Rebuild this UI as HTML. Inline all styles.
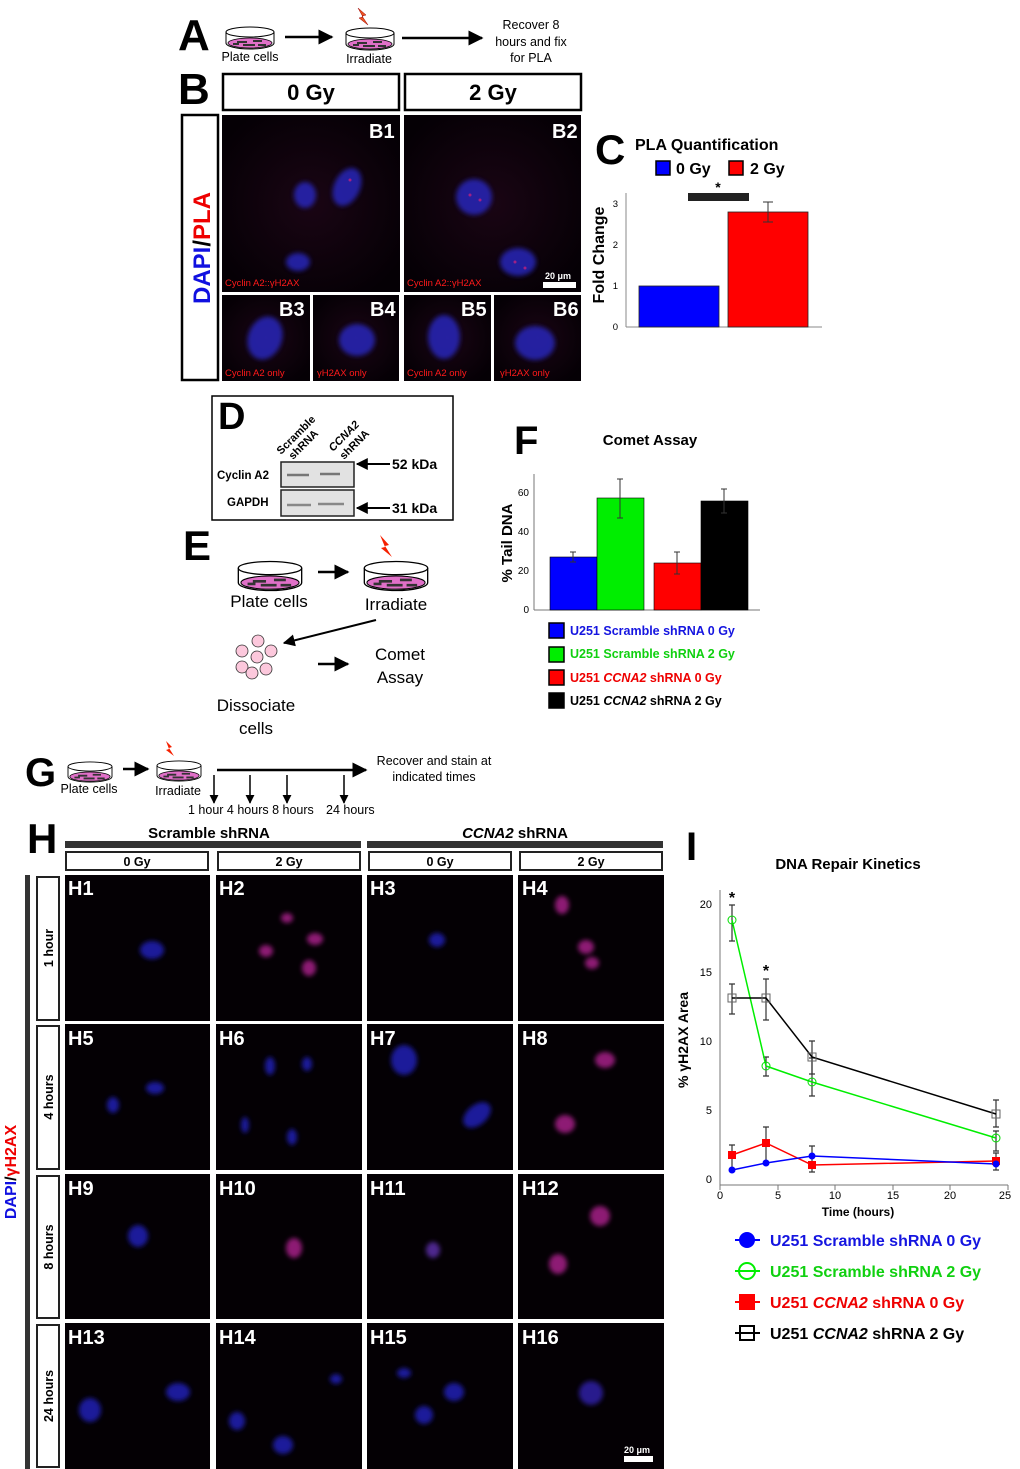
<!DOCTYPE html>
<html><head><meta charset="utf-8"><style>
html,body{margin:0;padding:0;background:#fff}
svg{display:block;font-family:"Liberation Sans",Arial,sans-serif}
.b{font-weight:bold}
</style></head><body>
<svg width="1020" height="1469" viewBox="0 0 1020 1469" xmlns="http://www.w3.org/2000/svg">
<defs>
<symbol id="dish" viewBox="0 0 50 24">
<path d="M1 6 V17 A24 6 0 0 0 49 17 V6" fill="#fff" stroke="#000" stroke-width="1"/>
<ellipse cx="25" cy="17" rx="22" ry="5" fill="#e070c8" stroke="#000" stroke-width="0.8"/>
<path d="M12 16h10M28 15h9M18 19h12M8 18h6M33 19h8" stroke="#333" stroke-width="2"/>
<ellipse cx="25" cy="6" rx="24" ry="5" fill="#fff" stroke="#000" stroke-width="1"/>
</symbol>
<marker id="ah" viewBox="0 0 10 10" refX="9" refY="5" markerWidth="6" markerHeight="6" orient="auto"><path d="M0 0L10 5L0 10z" fill="#000"/></marker>
<filter id="bl"><feGaussianBlur stdDeviation="2.5"/></filter>
<radialGradient id="bg" cx="50%" cy="50%" r="60%"><stop offset="0" stop-color="#1a0514"/><stop offset="1" stop-color="#050005"/></radialGradient>
</defs>

<!-- A -->
<text x="178" y="50" font-size="44" class="b">A</text>
<use href="#dish" x="225" y="26" width="50" height="24"/>
<text x="250" y="61" font-size="12.5" text-anchor="middle">Plate cells</text>
<line x1="285" y1="37" x2="332" y2="37" stroke="#000" stroke-width="2.5" marker-end="url(#ah)"/>
<use href="#dish" x="345" y="27" width="50" height="24"/>
<path d="M358 8l8 7-4 1 6 9-9-7 4-1z" fill="#e52" stroke="#900" stroke-width="0.5"/>
<text x="369" y="63" font-size="12.5" text-anchor="middle">Irradiate</text>
<line x1="402" y1="38" x2="482" y2="38" stroke="#000" stroke-width="2.5" marker-end="url(#ah)"/>
<text font-size="12.5" text-anchor="middle"><tspan x="531" y="29">Recover 8</tspan><tspan x="531" y="46">hours and fix</tspan><tspan x="531" y="62">for PLA</tspan></text>

<!-- B -->
<text x="178" y="104" font-size="44" class="b">B</text>
<rect x="223" y="74" width="176" height="36" fill="#fff" stroke="#000" stroke-width="2.5"/>
<text x="311" y="100" font-size="22" class="b" text-anchor="middle">0 Gy</text>
<rect x="405" y="74" width="176" height="36" fill="#fff" stroke="#000" stroke-width="2.5"/>
<text x="493" y="100" font-size="22" class="b" text-anchor="middle">2 Gy</text>
<rect x="182" y="115" width="36" height="265" fill="#fff" stroke="#000" stroke-width="2.5"/>
<text transform="translate(210,248) rotate(-90)" font-size="24" class="b" text-anchor="middle"><tspan fill="#1010e0">DAPI</tspan><tspan fill="#000">/</tspan><tspan fill="#e00">PLA</tspan></text>
<g>
<rect x="222" y="115" width="178" height="177" fill="url(#bg)"/>
<rect x="404" y="115" width="177" height="177" fill="url(#bg)"/>
<rect x="222" y="295" width="88" height="86" fill="url(#bg)"/>
<rect x="313" y="295" width="86" height="86" fill="url(#bg)"/>
<rect x="404" y="295" width="87" height="86" fill="url(#bg)"/>
<rect x="494" y="295" width="87" height="86" fill="url(#bg)"/>
<g filter="url(#bl)" fill="#2a2ad0" opacity="0.75">
<ellipse cx="305" cy="195" rx="11" ry="13"/>
<ellipse cx="347" cy="187" rx="13" ry="20" transform="rotate(25 347 187)"/>
<ellipse cx="298" cy="262" rx="12" ry="9"/>
<ellipse cx="474" cy="197" rx="18" ry="18"/>
<ellipse cx="518" cy="262" rx="18" ry="14"/>
<ellipse cx="265" cy="338" rx="17" ry="22" transform="rotate(20 265 338)"/>
<ellipse cx="357" cy="340" rx="18" ry="16"/>
<ellipse cx="444" cy="337" rx="16" ry="22"/>
<ellipse cx="535" cy="343" rx="20" ry="17"/>
</g>
<g fill="#c02080" opacity="0.8"><circle cx="470" cy="195" r="1.5"/><circle cx="480" cy="200" r="1.5"/><circle cx="515" cy="262" r="1.5"/><circle cx="350" cy="180" r="1.5"/><circle cx="525" cy="268" r="1.5"/></g>
</g>
<g fill="#fff" class="b" font-size="20">
<text x="369" y="138">B1</text><text x="552" y="138">B2</text>
<text x="279" y="316">B3</text><text x="370" y="316">B4</text><text x="461" y="316">B5</text><text x="553" y="316">B6</text>
</g>
<g fill="#ff1a1a" font-size="9.5">
<text x="225" y="286">Cyclin A2::γH2AX</text><text x="407" y="286">Cyclin A2::γH2AX</text>
<text x="225" y="376">Cyclin A2 only</text><text x="317" y="376">γH2AX only</text><text x="407" y="376">Cyclin A2 only</text><text x="500" y="376">γH2AX only</text>
</g>
<text x="545" y="279" fill="#fff" font-size="9" class="b">20 μm</text>
<rect x="543" y="282" width="33" height="6" fill="#fff"/>

<!-- C -->
<text x="595" y="164" font-size="42" class="b">C</text>
<text x="635" y="150" font-size="16" class="b">PLA Quantification</text>
<rect x="656" y="161" width="14" height="14" fill="#0000ff" stroke="#000" stroke-width="1.5"/>
<text x="676" y="174" font-size="16" class="b">0 Gy</text>
<rect x="729" y="161" width="14" height="14" fill="#ff0000" stroke="#000" stroke-width="1.5"/>
<text x="750" y="174" font-size="16" class="b">2 Gy</text>
<text transform="translate(604,255) rotate(-90)" font-size="16" class="b" text-anchor="middle">Fold Change</text>
<line x1="626" y1="193" x2="626" y2="327" stroke="#888" stroke-width="1"/>
<line x1="626" y1="327" x2="822" y2="327" stroke="#888" stroke-width="1"/>
<g font-size="9.5" text-anchor="end"><text x="618" y="330">0</text><text x="618" y="289">1</text><text x="618" y="248">2</text><text x="618" y="207">3</text></g>
<rect x="639" y="286" width="80" height="41" fill="#0000ff" stroke="#222" stroke-width="0.8"/>
<rect x="728" y="212" width="80" height="115" fill="#ff0000" stroke="#222" stroke-width="0.8"/>
<path d="M768 202v20M763 202h10M763 222h10" stroke="#333" stroke-width="1"/>
<rect x="688" y="193" width="61" height="8" fill="#222"/>
<text x="718" y="192" font-size="14" class="b" text-anchor="middle">*</text>

<!-- D -->
<rect x="212" y="396" width="241" height="124" fill="#fff" stroke="#000" stroke-width="1.5"/>
<text x="218" y="429" font-size="38" class="b">D</text>
<text transform="translate(281,455) rotate(-45)" font-size="11" class="b">Scramble</text>
<text transform="translate(293,460) rotate(-45)" font-size="11" class="b">shRNA</text>
<text transform="translate(333,452) rotate(-45)" font-size="11" class="b" font-style="italic">CCNA2</text>
<text transform="translate(344,460) rotate(-45)" font-size="11" class="b">shRNA</text>
<text x="217" y="479" font-size="11.5" class="b">Cyclin A2</text>
<text x="227" y="506" font-size="11.5" class="b">GAPDH</text>
<rect x="281" y="462" width="73" height="25" fill="#e2e2e2" stroke="#222" stroke-width="1.5"/>
<rect x="281" y="490" width="73" height="26" fill="#e2e2e2" stroke="#222" stroke-width="1.5"/>
<path d="M287 475h22M320 474h20" stroke="#777" stroke-width="2.5"/>
<path d="M287 505h24M318 504h26" stroke="#888" stroke-width="2.5"/>
<line x1="390" y1="464" x2="357" y2="464" stroke="#000" stroke-width="2" marker-end="url(#ah)"/>
<text x="392" y="469" font-size="14" class="b">52 kDa</text>
<line x1="390" y1="508" x2="357" y2="508" stroke="#000" stroke-width="2" marker-end="url(#ah)"/>
<text x="392" y="513" font-size="14" class="b">31 kDa</text>

<!-- E -->
<text x="183" y="560" font-size="42" class="b">E</text>
<use href="#dish" x="237" y="560" width="66" height="32"/>
<text x="269" y="607" font-size="17" text-anchor="middle">Plate cells</text>
<line x1="318" y1="572" x2="348" y2="572" stroke="#000" stroke-width="2.5" marker-end="url(#ah)"/>
<use href="#dish" x="363" y="560" width="66" height="32"/>
<path d="M380 535l9 10-4 1 7 11-11-9 4-1z" fill="#f52000"/>
<text x="396" y="610" font-size="17" text-anchor="middle">Irradiate</text>
<line x1="376" y1="620" x2="284" y2="643" stroke="#000" stroke-width="2" marker-end="url(#ah)"/>
<g fill="#fcc8dc" stroke="#333" stroke-width="0.8">
<circle cx="258" cy="641" r="6"/><circle cx="242" cy="651" r="6"/><circle cx="271" cy="651" r="6"/><circle cx="257" cy="657" r="6"/><circle cx="242" cy="667" r="6"/><circle cx="266" cy="669" r="6"/><circle cx="252" cy="673" r="6"/>
</g>
<line x1="318" y1="664" x2="348" y2="664" stroke="#000" stroke-width="2.5" marker-end="url(#ah)"/>
<text font-size="17" text-anchor="middle"><tspan x="400" y="660">Comet</tspan><tspan x="400" y="683">Assay</tspan></text>
<text font-size="17" text-anchor="middle"><tspan x="256" y="711">Dissociate</tspan><tspan x="256" y="734">cells</tspan></text>

<!-- F -->
<text x="514" y="454" font-size="40" class="b">F</text>
<text x="650" y="445" font-size="15" class="b" text-anchor="middle">Comet Assay</text>
<text transform="translate(512,543) rotate(-90)" font-size="15" class="b" text-anchor="middle">% Tail DNA</text>
<line x1="534" y1="474" x2="534" y2="610" stroke="#777"/>
<line x1="534" y1="610" x2="760" y2="610" stroke="#777"/>
<g font-size="10" text-anchor="end"><text x="529" y="613">0</text><text x="529" y="574">20</text><text x="529" y="535">40</text><text x="529" y="496">60</text></g>
<rect x="550" y="557" width="47" height="53" fill="#0000ff" stroke="#000" stroke-width="0.6"/>
<rect x="597" y="498" width="47" height="112" fill="#00ee00" stroke="#000" stroke-width="0.6"/>
<rect x="654" y="563" width="47" height="47" fill="#ff0000" stroke="#000" stroke-width="0.6"/>
<rect x="701" y="501" width="47" height="109" fill="#000" stroke="#000" stroke-width="0.6"/>
<g stroke="#333" stroke-width="1">
<path d="M573 552v10M570 552h6M570 562h6"/>
<path d="M620 479v39M617 479h6M617 518h6"/>
<path d="M677 552v22M674 552h6M674 574h6"/>
<path d="M724 489v24M721 489h6M721 513h6"/>
</g>
<g font-size="12.5" class="b">
<rect x="549" y="623" width="15" height="15" fill="#0000ff" stroke="#000" stroke-width="1.5"/>
<text x="570" y="635" fill="#1515e0">U251 Scramble shRNA 0 Gy</text>
<rect x="549" y="647" width="15" height="15" fill="#00ee00" stroke="#000" stroke-width="1.5"/>
<text x="570" y="658" fill="#10d010">U251 Scramble shRNA 2 Gy</text>
<rect x="549" y="670" width="15" height="15" fill="#ff0000" stroke="#000" stroke-width="1.5"/>
<text x="570" y="682" fill="#e00">U251 <tspan font-style="italic">CCNA2</tspan> shRNA 0 Gy</text>
<rect x="549" y="693" width="15" height="15" fill="#000" stroke="#000" stroke-width="1.5"/>
<text x="570" y="705">U251 <tspan font-style="italic">CCNA2</tspan> shRNA 2 Gy</text>
</g>

<!-- G -->
<text x="25" y="786" font-size="40" class="b">G</text>
<use href="#dish" x="66" y="761" width="48" height="22"/>
<text x="89" y="793" font-size="12.5" text-anchor="middle">Plate cells</text>
<line x1="123" y1="769" x2="148" y2="769" stroke="#000" stroke-width="2.5" marker-end="url(#ah)"/>
<use href="#dish" x="155" y="760" width="48" height="22"/>
<path d="M166 741l6 6-3 1 5 8-8-6 3-1z" fill="#f52000"/>
<text x="178" y="795" font-size="12.5" text-anchor="middle">Irradiate</text>
<line x1="217" y1="770" x2="366" y2="770" stroke="#000" stroke-width="2.5" marker-end="url(#ah)"/>
<g stroke="#000" stroke-width="1.5">
<line x1="214" y1="775" x2="214" y2="803" marker-end="url(#ah)"/>
<line x1="250" y1="775" x2="250" y2="803" marker-end="url(#ah)"/>
<line x1="287" y1="775" x2="287" y2="803" marker-end="url(#ah)"/>
<line x1="344" y1="775" x2="344" y2="803" marker-end="url(#ah)"/>
</g>
<text x="188" y="814" font-size="12.5">1 hour 4 hours 8 hours</text>
<text x="326" y="814" font-size="12.5">24 hours</text>
<text font-size="12.5" text-anchor="middle"><tspan x="434" y="765">Recover and stain at</tspan><tspan x="434" y="781">indicated times</tspan></text>

<!-- H -->
<text x="27" y="853" font-size="42" class="b">H</text>
<text x="209" y="838" font-size="15" class="b" text-anchor="middle">Scramble shRNA</text>
<text x="515" y="838" font-size="15" class="b" text-anchor="middle"><tspan font-style="italic">CCNA2</tspan> shRNA</text>
<rect x="65" y="841" width="296" height="7" fill="#333"/>
<rect x="367" y="841" width="296" height="7" fill="#333"/>
<g fill="#fff" stroke="#222" stroke-width="2">
<rect x="66" y="852" width="142" height="18"/><rect x="218" y="852" width="142" height="18"/>
<rect x="369" y="852" width="142" height="18"/><rect x="520" y="852" width="142" height="18"/>
</g>
<g font-size="12.5" class="b" text-anchor="middle">
<text x="137" y="866">0 Gy</text><text x="289" y="866">2 Gy</text><text x="440" y="866">0 Gy</text><text x="591" y="866">2 Gy</text>
</g>
<rect x="25" y="875" width="5" height="594" fill="#333"/>
<text transform="translate(16,1172) rotate(-90)" font-size="16" class="b" text-anchor="middle"><tspan fill="#1010e0">DAPI</tspan><tspan fill="#000">/</tspan><tspan fill="#e00">γH2AX</tspan></text>
<g fill="#fff" stroke="#222" stroke-width="2">
<rect x="37" y="877" width="22" height="143"/><rect x="37" y="1026" width="22" height="143"/>
<rect x="37" y="1176" width="22" height="142"/><rect x="37" y="1325" width="22" height="142"/>
</g>
<g font-size="12.5" class="b" text-anchor="middle">
<text transform="translate(53,948) rotate(-90)">1 hour</text>
<text transform="translate(53,1097) rotate(-90)">4 hours</text>
<text transform="translate(53,1247) rotate(-90)">8 hours</text>
<text transform="translate(53,1396) rotate(-90)">24 hours</text>
</g>
<g fill="#040004">
<rect x="65" y="875" width="145" height="146"/><rect x="216" y="875" width="146" height="146"/><rect x="367" y="875" width="146" height="146"/><rect x="518" y="875" width="146" height="146"/>
<rect x="65" y="1024" width="145" height="146"/><rect x="216" y="1024" width="146" height="146"/><rect x="367" y="1024" width="146" height="146"/><rect x="518" y="1024" width="146" height="146"/>
<rect x="65" y="1174" width="145" height="145"/><rect x="216" y="1174" width="146" height="145"/><rect x="367" y="1174" width="146" height="145"/><rect x="518" y="1174" width="146" height="145"/>
<rect x="65" y="1323" width="145" height="146"/><rect x="216" y="1323" width="146" height="146"/><rect x="367" y="1323" width="146" height="146"/><rect x="518" y="1323" width="146" height="146"/>
</g>
<g filter="url(#bl)" opacity="0.8">
<g fill="#2020c0">
<ellipse cx="152" cy="950" rx="12" ry="9"/>
<ellipse cx="437" cy="940" rx="8" ry="7"/>
<ellipse cx="155" cy="1088" rx="9" ry="6"/><ellipse cx="113" cy="1105" rx="6" ry="8"/>
<ellipse cx="270" cy="1066" rx="5" ry="9"/><ellipse cx="307" cy="1064" rx="5" ry="7"/><ellipse cx="292" cy="1137" rx="5" ry="8"/><ellipse cx="245" cy="1125" rx="4" ry="8"/>
<ellipse cx="404" cy="1060" rx="13" ry="15"/><ellipse cx="477" cy="1115" rx="10" ry="16" transform="rotate(50 477 1115)"/>
<ellipse cx="138" cy="1236" rx="10" ry="11"/>
<ellipse cx="433" cy="1250" rx="7" ry="8" fill="#6030b0"/>
<ellipse cx="178" cy="1392" rx="12" ry="9"/><ellipse cx="90" cy="1410" rx="11" ry="12"/>
<ellipse cx="336" cy="1379" rx="6" ry="5"/><ellipse cx="237" cy="1421" rx="8" ry="9"/><ellipse cx="283" cy="1445" rx="10" ry="9"/>
<ellipse cx="454" cy="1392" rx="10" ry="9"/><ellipse cx="424" cy="1415" rx="9" ry="9"/><ellipse cx="404" cy="1373" rx="7" ry="5"/>
<ellipse cx="591" cy="1393" rx="12" ry="12" fill="#3020b0"/>
</g>
<g fill="#b02090">
<ellipse cx="266" cy="951" rx="7" ry="6"/><ellipse cx="315" cy="939" rx="8" ry="6"/><ellipse cx="309" cy="968" rx="7" ry="8"/><ellipse cx="287" cy="918" rx="6" ry="5"/>
<ellipse cx="562" cy="905" rx="7" ry="9"/><ellipse cx="586" cy="947" rx="8" ry="7"/><ellipse cx="592" cy="963" rx="7" ry="6"/>
<ellipse cx="605" cy="1060" rx="10" ry="8"/><ellipse cx="565" cy="1124" rx="10" ry="9"/>
<ellipse cx="294" cy="1248" rx="8" ry="10"/><ellipse cx="600" cy="1216" rx="10" ry="10"/><ellipse cx="558" cy="1264" rx="9" ry="10"/>
</g>
</g>
<g fill="#fff" class="b" font-size="20">
<text x="68" y="895">H1</text><text x="219" y="895">H2</text><text x="370" y="895">H3</text><text x="522" y="895">H4</text>
<text x="68" y="1045">H5</text><text x="219" y="1045">H6</text><text x="370" y="1045">H7</text><text x="522" y="1045">H8</text>
<text x="68" y="1195">H9</text><text x="219" y="1195">H10</text><text x="370" y="1195">H11</text><text x="522" y="1195">H12</text>
<text x="68" y="1344">H13</text><text x="219" y="1344">H14</text><text x="370" y="1344">H15</text><text x="522" y="1344">H16</text>
</g>
<text x="624" y="1453" fill="#fff" font-size="9" class="b">20 μm</text>
<rect x="624" y="1456" width="29" height="6" fill="#fff"/>

<!-- I -->
<text x="686" y="860" font-size="40" class="b">I</text>
<text x="848" y="869" font-size="15" class="b" text-anchor="middle">DNA Repair Kinetics</text>
<text transform="translate(688,1040) rotate(-90)" font-size="14" class="b" text-anchor="middle">% γH2AX Area</text>
<line x1="720" y1="890" x2="720" y2="1185" stroke="#777"/>
<line x1="720" y1="1185" x2="1008" y2="1185" stroke="#777"/>
<g font-size="11" text-anchor="end"><text x="712" y="1183">0</text><text x="712" y="1114">5</text><text x="712" y="1045">10</text><text x="712" y="976">15</text><text x="712" y="908">20</text></g>
<g stroke="#777"><path d="M720 1185v5M778 1185v5M835 1185v5M893 1185v5M950 1185v5M1008 1185v5"/></g>
<g font-size="11" text-anchor="middle"><text x="720" y="1199">0</text><text x="778" y="1199">5</text><text x="835" y="1199">10</text><text x="893" y="1199">15</text><text x="950" y="1199">20</text><text x="1005" y="1199">25</text></g>
<text x="858" y="1216" font-size="12" class="b" text-anchor="middle">Time (hours)</text>
<g stroke="#333" stroke-width="1.2" fill="none">
<path d="M732 905v36M729 905h6M729 941h6"/>
<path d="M732 984v30M729 984h6M729 1014h6"/>
<path d="M766 979v41M763 979h6M763 1020h6"/>
<path d="M766 1057v19M763 1057h6M763 1076h6"/>
<path d="M812 1041v33M809 1041h6M809 1074h6"/>
<path d="M812 1058v38M809 1058h6M809 1096h6"/>
<path d="M996 1100v27M993 1100h6M993 1127h6"/>
<path d="M996 1131v20M993 1131h6M993 1151h6"/>
<path d="M732 1145v24M729 1145h6M729 1169h6"/>
<path d="M766 1127v37M763 1127h6M763 1164h6"/>
<path d="M812 1146v26M809 1146h6M809 1172h6"/>
<path d="M996 1153v17M993 1153h6M993 1170h6"/>
</g>
<polyline points="732,920 766,1066 812,1082 996,1138" fill="none" stroke="#00ee00" stroke-width="1.5"/>
<polyline points="732,998 766,998 812,1057 996,1114" fill="none" stroke="#000" stroke-width="1.5"/>
<polyline points="732,1155 766,1143 812,1165 996,1161" fill="none" stroke="#ff0000" stroke-width="1.5"/>
<polyline points="732,1170 766,1163 812,1156 996,1164" fill="none" stroke="#0000ff" stroke-width="1.5"/>
<g fill="none" stroke="#00dd00"><circle cx="732" cy="920" r="4"/><circle cx="766" cy="1066" r="4"/><circle cx="812" cy="1082" r="4"/><circle cx="996" cy="1138" r="4"/></g>
<g fill="none" stroke="#666"><rect x="728" y="994" width="8" height="8"/><rect x="762" y="994" width="8" height="8"/><rect x="808" y="1053" width="8" height="8"/><rect x="992" y="1110" width="8" height="8"/></g>
<g fill="#f00"><rect x="728" y="1151" width="8" height="8"/><rect x="762" y="1139" width="8" height="8"/><rect x="808" y="1161" width="8" height="8"/><rect x="992" y="1157" width="8" height="8"/></g>
<g fill="#00f"><circle cx="732" cy="1170" r="3.5"/><circle cx="766" cy="1163" r="3.5"/><circle cx="812" cy="1156" r="3.5"/><circle cx="996" cy="1164" r="3.5"/></g>
<text x="732" y="903" font-size="16" class="b" text-anchor="middle">*</text>
<text x="766" y="976" font-size="16" class="b" text-anchor="middle">*</text>
<g font-size="16" class="b">
<line x1="735" y1="1240" x2="760" y2="1240" stroke="#00f" stroke-width="2"/><circle cx="747" cy="1240" r="8" fill="#00f"/>
<text x="770" y="1246" fill="#1515e0">U251 Scramble shRNA 0 Gy</text>
<line x1="735" y1="1271" x2="760" y2="1271" stroke="#00ee00" stroke-width="2"/><circle cx="747" cy="1271" r="8" fill="none" stroke="#00ee00" stroke-width="2"/>
<text x="770" y="1277" fill="#10d010">U251 Scramble shRNA 2 Gy</text>
<line x1="735" y1="1302" x2="760" y2="1302" stroke="#f00" stroke-width="2"/><rect x="739" y="1294" width="16" height="16" fill="#f00"/>
<text x="770" y="1308" fill="#e00">U251 <tspan font-style="italic">CCNA2</tspan> shRNA 0 Gy</text>
<line x1="735" y1="1333" x2="760" y2="1333" stroke="#000" stroke-width="2"/><rect x="740" y="1326" width="14" height="14" fill="none" stroke="#000" stroke-width="2"/>
<text x="770" y="1339">U251 <tspan font-style="italic">CCNA2</tspan> shRNA 2 Gy</text>
</g>
</svg>
</body></html>
